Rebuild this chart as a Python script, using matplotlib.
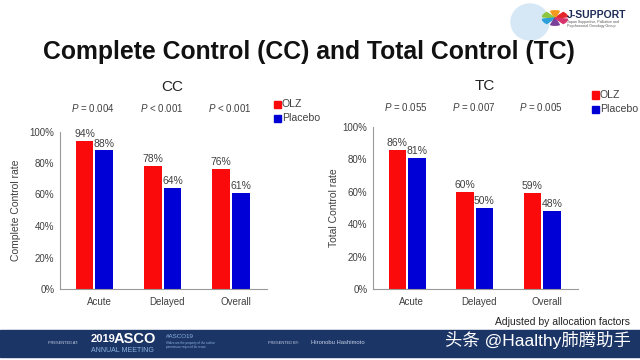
import matplotlib.pyplot as plt
from matplotlib.patches import Rectangle, Ellipse, Wedge

plt.rcParams['font.family'] = ['Liberation Sans', 'Noto Sans CJK SC', 'DejaVu Sans']
plt.rcParams['mathtext.fontset'] = 'custom'
plt.rcParams['mathtext.rm'] = 'Liberation Sans'
plt.rcParams['mathtext.it'] = 'Liberation Sans:italic'

# data
categories = ["Acute", "Delayed", "Overall"]
cc_olz = [94, 78, 76]
cc_placebo = [88, 64, 61]
tc_olz = [86, 60, 59]
tc_placebo = [81, 50, 48]
cc_p = ["= 0.004", "< 0.001", "< 0.001"]
tc_p = ["= 0.055", "= 0.007", "= 0.005"]

RED = '#fa0a0a'
BLUE = '#0000d6'
GRAY = '#404040'

W, H = 640, 360
fig = plt.figure(figsize=(6.4, 3.6), dpi=100)


def px(x, y):
    # pixel coords (top-left origin) -> figure fraction
    return x / W, 1 - y / H


def draw_panel(left, right, top, bottom, olz, plac, pvals, ylabel, label_x, name, name_y, p_y, leg_x, leg_y):
    ax = fig.add_axes([left / W, 1 - bottom / H, (right - left) / W, (bottom - top) / H])
    x = range(len(categories))
    bw = 0.26
    off = 0.145
    b1 = ax.bar([i - off for i in x], olz, bw, color=RED)
    b2 = ax.bar([i + off for i in x], plac, bw, color=BLUE)
    for bars, vals in ((b1, olz), (b2, plac)):
        for r, v in zip(bars, vals):
            ax.text(r.get_x() + r.get_width() / 2, v + 1.2, f"{v}%", ha='center', va='bottom',
                    fontsize=7.5, color=GRAY)
    ax.set_xlim(-0.505, 2.53)
    ax.set_ylim(0, 100)
    ax.set_yticks(range(0, 101, 20))
    ax.set_yticklabels([f"{v}%" for v in range(0, 101, 20)])
    ax.set_xticks([i + 0.07 for i in x])
    ax.set_xticklabels(categories)
    ax.tick_params(axis='both', length=0, labelsize=7, colors=GRAY, pad=6)
    ax.tick_params(axis='y', pad=4)
    for s in ('top', 'right'):
        ax.spines[s].set_visible(False)
    for s in ('left', 'bottom'):
        ax.spines[s].set_color('#9a9a9a')
        ax.spines[s].set_linewidth(0.8)
    ax.set_ylabel(ylabel, fontsize=7.5, color=GRAY)
    ax.yaxis.set_label_coords((label_x - left) / (right - left), 0.5)
    # subtitle
    cx = (left + right) / 2 + 5
    fig.text(*px(cx + 4, name_y), name, ha='center', va='center', fontsize=11, color='#222222')
    # p values
    for i, p in enumerate(pvals):
        ax.text(i - 0.02, 1 + (top - p_y) / (bottom - top), r"$\it{P}$ " + p,
                transform=ax.get_xaxis_transform(), ha='center', va='center',
                fontsize=7, color=GRAY)
    # legend
    for j, (lab, col) in enumerate((("OLZ", RED), ("Placebo", BLUE))):
        yy = leg_y + j * 14.5
        fig.patches.append(Rectangle(px(leg_x - 3.5, yy + 3.5), 7 / W, 7 / H, color=col,
                                     transform=fig.transFigure, figure=fig))
        fig.text(*px(leg_x + 5, yy), lab, ha='left', va='center', fontsize=7.6, color=GRAY)
    return ax


draw_panel(60, 267, 131.5, 289, cc_olz, cc_placebo, cc_p, "Complete Control rate", 21,
           "CC", 87, 108, 277, 104)
draw_panel(373, 578, 127, 289, tc_olz, tc_placebo, tc_p, "Total Control rate", 339,
           "TC", 86, 107, 595, 95)

# title
fig.text(*px(309, 52), "Complete Control (CC) and Total Control (TC)", ha='center', va='center',
         fontsize=17.8, fontweight='bold', color='#111111')

# footnote
fig.text(*px(630, 322), "Adjusted by allocation factors", ha='right', va='center',
         fontsize=7.5, color='#222222')

# logo (rough)
fig.patches.append(Ellipse(px(530, 22), 38 / W, 36 / H, color='#d6e8f5',
                           transform=fig.transFigure, figure=fig))
for k, c in enumerate(['#e4262c', '#f39a1e', '#8cc63f', '#2a9fd8', '#7a3f98', '#d6336c']):
    fig.patches.append(Wedge(px(555, 18), 0.02, 60 * k + 10, 60 * k + 50, color=c,
                             transform=fig.transFigure, figure=fig))
fig.text(*px(567, 15), "J-SUPPORT", ha='left', va='center', fontsize=7.5, fontweight='bold',
         color='#1d2b57')
fig.text(*px(567, 24), "Japan Supportive, Palliative and\nPsychosocial Oncology Group",
         ha='left', va='center', fontsize=2.6, color='#555555', linespacing=1.1)

# bottom banner
fig.patches.append(Rectangle(px(0, 357), 1, 27 / H, color='#1b3567',
                             transform=fig.transFigure, figure=fig))
fig.text(*px(48, 343), "PRESENTED AT:", ha='left', va='center', fontsize=2.8, color='#c8d2e6')
fig.text(*px(91, 339), "2019", ha='left', va='center', fontsize=8, fontweight='bold', color='white')
fig.text(*px(114, 339), "ASCO", ha='left', va='center', fontsize=10.5, fontweight='bold', color='white')
fig.text(*px(91, 350), "ANNUAL MEETING", ha='left', va='center', fontsize=5, color='#8fb3e0')
fig.text(*px(166, 337), "#ASCO19", ha='left', va='center', fontsize=4.5, color='#8fb3e0')
fig.text(*px(166, 345), "Slides are the property of the author,\npermission required for reuse.",
         ha='left', va='center', fontsize=2.2, color='#8fb3e0', linespacing=1.1)
fig.text(*px(268, 343), "PRESENTED BY:", ha='left', va='center', fontsize=2.8, color='#c8d2e6')
fig.text(*px(311, 343), "Hironobu Hashimoto", ha='left', va='center', fontsize=4.2, color='#c8d2e6')
fig.text(*px(631, 340), "头条 @Haalthy肺腾助手", ha='right', va='center', fontsize=12.5, color='white')

fig.savefig("out.png", dpi=100)
